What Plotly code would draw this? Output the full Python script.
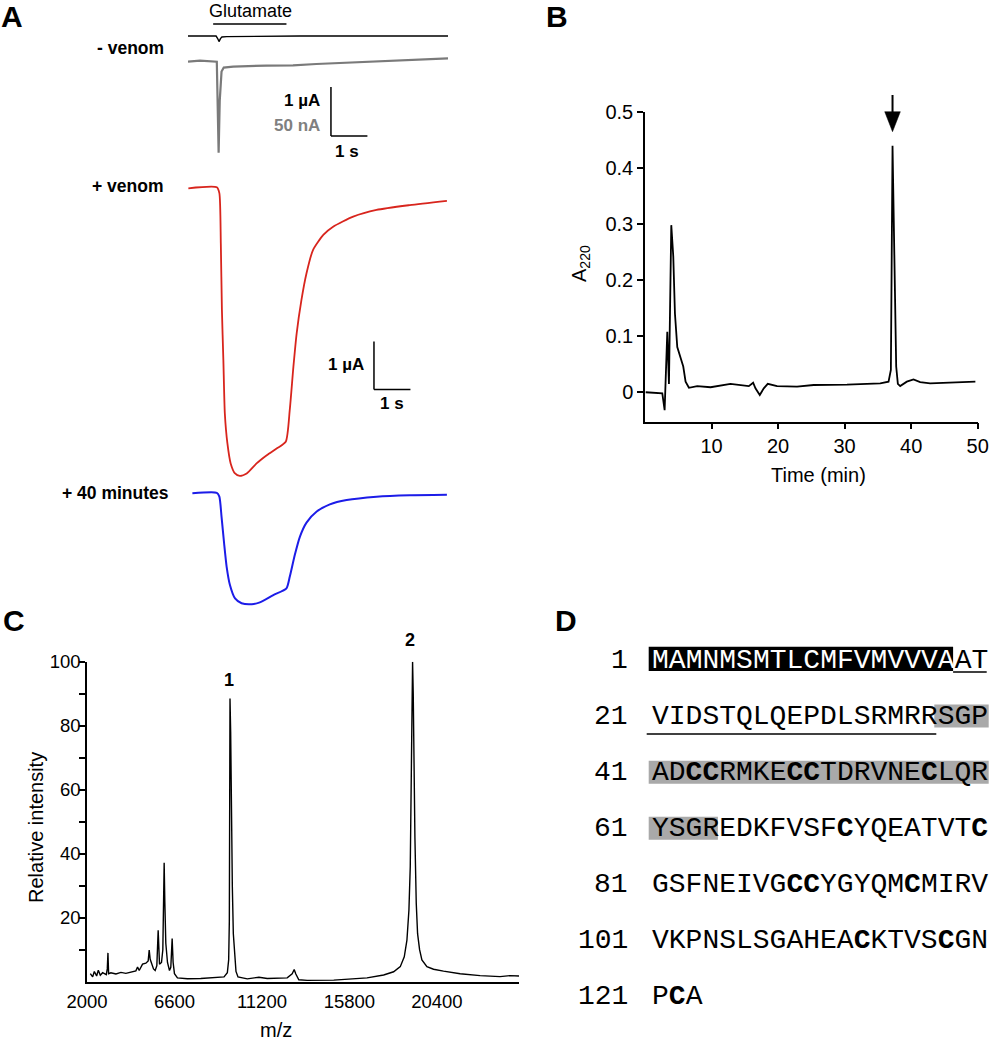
import plotly.graph_objects as go

# ---------------- DATA ----------------
# Panel A: oocyte currents (time in s, current)
A_black_t = [0.0, 0.77, 0.81, 0.85, 0.89, 0.93, 1.06, 3.07, 7.13]
A_black_uA = [0, 0, -0.048, -0.116, -0.054, -0.02, -0.014, 0, 0]

A_gray_t = [0.0, 0.33, 0.79, 0.81, 0.84, 0.87, 0.92, 0.98, 1.24, 2.15, 2.88, 3.52, 4.44, 5.81, 7.13]
A_gray_nA = [0, 1, 0, -40, -93, -40, -10, -6, -5, -4, -3.7, -2.4, -1, 1, 3.4]

A_red_t = [0.01, 0.79, 0.86, 0.90, 0.93, 0.97, 1.01, 1.08, 1.17, 1.29, 1.42, 1.61, 1.88, 2.16,
           2.43, 2.68, 2.79, 2.89, 2.98, 3.11, 3.25, 3.43, 3.71, 3.98, 4.53, 5.17, 6.08, 7.10]
A_red_uA = [0, 0.02, -0.10, -1.15, -2.53, -3.58, -4.69, -5.31, -5.73, -5.94, -5.99, -5.94, -5.73, -5.56,
            -5.42, -5.28, -4.62, -3.72, -3.02, -2.33, -1.77, -1.28, -0.97, -0.80, -0.59, -0.45, -0.35, -0.26]

A_blue_t = [0.12, 0.79, 0.86, 0.92, 0.99, 1.06, 1.15, 1.29, 1.47, 1.75, 1.97, 2.34, 2.70, 2.79,
            2.93, 3.07, 3.25, 3.53, 3.89, 4.35, 5.17, 6.08, 7.10]
A_blue_uA = [0, 0.01, -0.07, -0.49, -1.04, -1.53, -1.91, -2.19, -2.29, -2.31, -2.27, -2.12, -1.98, -1.74,
             -1.28, -0.90, -0.61, -0.38, -0.23, -0.14, -0.07, -0.04, -0.03]

GLU_ON, GLU_OFF = 0.69, 2.70          # glutamate application (s)

# Panel B: HPLC chromatogram
B_time = [0.1, 2.6, 2.95, 3.35, 3.6, 3.95, 4.25, 4.5, 4.85, 5.35, 5.75, 6.1, 6.6, 7.85, 9.85,
          12.85, 14.35, 15.6, 16.25, 16.6, 17.25, 17.85, 18.45, 19.85, 22.85, 25.35, 30.35, 35.35,
          36.6, 36.95, 37.2, 37.5, 37.75, 38.0, 38.35, 39.35, 40.35, 41.35, 42.85, 49.65]
B_a220 = [-0.001, -0.003, -0.033, 0.107, 0.014, 0.298, 0.242, 0.14, 0.08, 0.06, 0.045, 0.018, 0.007, 0.01, 0.008,
          0.014, 0.012, 0.01, 0.016, 0.006, -0.006, 0.006, 0.014, 0.010, 0.009, 0.012, 0.0125, 0.015,
          0.018, 0.039, 0.44, 0.26, 0.045, 0.014, 0.01, 0.018, 0.022, 0.017, 0.015, 0.018]
B_xticks = [10, 20, 30, 40, 50]
B_yticks = [0, 0.1, 0.2, 0.3, 0.4, 0.5]
B_yticklabels = ["0", "0.1", "0.2", "0.3", "0.4", "0.5"]

# Panel C: MALDI mass spectrum
C_mz = [2175, 2297, 2385, 2507, 2595, 2700, 2822, 3014, 3067, 3102,
        3137, 3259, 3522, 3784, 4046, 4309, 4571, 4659, 4746, 4921,
        5096, 5218, 5271, 5323, 5393, 5498, 5586, 5673, 5743, 5813,
        5918, 5988, 6040, 6058, 6093, 6145, 6233, 6338, 6408, 6478,
        6530, 6600, 6757, 7282, 7981, 8681, 9206, 9381, 9451, 9486,
        9503, 9521, 9556, 9591, 9643, 9696, 9766, 9836, 9941, 10430,
        11043, 11480, 12529, 12791, 12896, 12983, 13140, 13578, 14978, 16727,
        17601, 18126, 18476, 18686, 18826, 18931, 19001, 19053, 19088, 19123,
        19158, 19193, 19246, 19316, 19386, 19491, 19613, 19876, 20225, 20750,
        21625, 22674, 23724, 24248, 24720]
C_int = [2.5, 1.5, 3.2, 1.8, 3.6, 2.0, 2.8, 2.2, 4.0, 9.0,
         2.5, 2.8, 2.4, 2.9, 2.6, 3.0, 3.4, 4.6, 3.5, 5.5,
         5.8, 6.5, 9.9, 7.0, 6.0, 4.0, 3.5, 5.0, 16.1, 5.5,
         6.0, 10, 30, 37.2, 25, 12, 6.0, 3.5, 4.5, 13.5,
         6.0, 2.5, 1.2, 0.9, 1.0, 1.2, 1.5, 2.8, 6.8, 19,
         50, 88.5, 78, 45, 30, 15, 6.8, 3.2, 1.5, 0.9,
         1.4, 1.0, 1.2, 2.5, 3.8, 2.4, 0.6, 0.4, 0.5, 1.2,
         2.1, 3.1, 4.7, 7.8, 13, 22.4, 36, 59, 82, 100,
         90, 69, 45, 24.5, 15, 10, 6.8, 4.7, 3.9, 3.3,
         2.5, 1.9, 1.6, 1.9, 1.8]
C_xticks = [2000, 6600, 11200, 15800, 20400]
C_xticklabels = ["2000", "6600", "11200", "15800", "20400"]
C_yticks = [20, 40, 60, 80, 100]
C_yticklabels = ["20", "40", "60", "80", "100"]
C_yminor = [10, 30, 50, 70, 90]
C_peak_labels = ["1", "2"]
C_peak_mz = [9468, 18966]
C_peak_y = [94.3, 106.8]

# Panel D: sequence
D_start = [1, 21, 41, 61, 81, 101, 121]
D_rows = ["MAMNMSMTLCMFVMVVVAAT", "VIDSTQLQEPDLSRMRRSGP", "ADCCRMKECCTDRVNECLQR",
          "YSGREDKFVSFCYQEATVTC", "GSFNEIVGCCYGYQMCMIRV", "VKPNSLSGAHEACKTVSCGN", "PCA"]
D_signal = (1, 18)       # black box
D_propep = (19, 37)      # underlined
D_mature = (38, 64)      # gray box

# ---------------- LAYOUT HELPERS ----------------
W, H = 990, 1050
def px(x): return x / W
def py(y): return 1 - y / H

FONT = "Liberation Sans, Arial, Helvetica, sans-serif"
MONO = "Liberation Mono, Courier New, Courier, monospace"

fig = go.Figure()

# ---------------- PANEL A ----------------
line_kw = dict(mode="lines", showlegend=False, hoverinfo="skip")
fig.add_trace(go.Scatter(x=A_black_t, y=A_black_uA, xaxis="x", yaxis="y",
                         line=dict(color="black", width=1.4), **line_kw))
fig.add_trace(go.Scatter(x=A_gray_t, y=A_gray_nA, xaxis="x", yaxis="y2",
                         line=dict(color="#7a7a7a", width=2.2), **line_kw))
fig.add_trace(go.Scatter(x=A_red_t, y=A_red_uA, xaxis="x", yaxis="y3",
                         line=dict(color="#d8251d", width=1.8, shape="spline", smoothing=0.6), **line_kw))
fig.add_trace(go.Scatter(x=A_blue_t, y=A_blue_uA, xaxis="x", yaxis="y4",
                         line=dict(color="#1c1ce8", width=2.0, shape="spline", smoothing=0.6), **line_kw))

# ---------------- PANEL B ----------------
fig.add_trace(go.Scatter(x=B_time, y=B_a220, xaxis="x2", yaxis="y5",
                         line=dict(color="black", width=1.8), **line_kw))

# ---------------- PANEL C ----------------
fig.add_trace(go.Scatter(x=C_mz, y=C_int, xaxis="x3", yaxis="y6",
                         line=dict(color="black", width=1.4), **line_kw))

hidden = dict(visible=False, showgrid=False, zeroline=False, fixedrange=True, automargin=False)
axis_style = dict(showline=True, linecolor="black", linewidth=1.5, ticks="outside", ticklen=6,
                  tickwidth=1.5, tickcolor="black", showgrid=False, zeroline=False, fixedrange=True,
                  automargin=False)

shapes = []
annotations = []

# glutamate bar and scale bars (panel A)
shapes.append(dict(type="line", xref="x", yref="y", x0=GLU_ON, x1=GLU_OFF, y0=0.25, y1=0.25,
                   line=dict(color="black", width=1.5)))
shapes.append(dict(type="line", xref="x", yref="y2", x0=3.92, x1=3.92, y0=-75.8, y1=-25.8,
                   line=dict(color="black", width=1.5)))
shapes.append(dict(type="line", xref="x", yref="y2", x0=3.92, x1=4.92, y0=-75.8, y1=-75.8,
                   line=dict(color="black", width=1.5)))
shapes.append(dict(type="line", xref="x", yref="y3", x0=5.10, x1=5.10, y0=-4.19, y1=-3.19,
                   line=dict(color="black", width=1.5)))
shapes.append(dict(type="line", xref="x", yref="y3", x0=5.10, x1=6.10, y0=-4.19, y1=-4.19,
                   line=dict(color="black", width=1.5)))

def ann(text, x, y, size=17, bold=False, xanchor="center", color="black", family=FONT, angle=0):
    annotations.append(dict(text=("<b>%s</b>" % text) if bold else text, x=px(x), y=py(y),
                            xref="paper", yref="paper", showarrow=False, xanchor=xanchor,
                            yanchor="middle", textangle=angle,
                            font=dict(family=family, size=size, color=color)))

# panel letters
ann("A", 12, 16, size=30, bold=True)
ann("B", 557, 16, size=30, bold=True)
ann("C", 14, 620, size=30, bold=True)
ann("D", 566, 620, size=30, bold=True)

ann("Glutamate", 250, 11, size=18)
ann("- venom", 166, 48, size=17.5, bold=True, xanchor="right")
ann("+ venom", 166, 186, size=17.5, bold=True, xanchor="right")
ann("+ 40 minutes", 171, 493, size=17.5, bold=True, xanchor="right")
ann("1 µA", 322, 101, size=17, bold=True, xanchor="right")
ann("50 nA", 322, 125, size=17, bold=True, xanchor="right", color="#808080")
ann("1 s", 347, 151, size=17, bold=True)
ann("1 µA", 366, 364, size=17, bold=True, xanchor="right")
ann("1 s", 392, 403, size=17, bold=True)

# Panel B titles and arrow
ann("A<sub>220</sub>", 580, 264, size=20, angle=-90)
ann("Time (min)", 818, 475, size=20)

B_X0, B_X1, B_Y0, B_Y1 = 645, 977.7, 421.7, 112.3
B_RANGE_X = [0, 50]
B_RANGE_Y = [-0.0537, 0.5]
def bx(t): return B_X0 + (t - B_RANGE_X[0]) / (B_RANGE_X[1] - B_RANGE_X[0]) * (B_X1 - B_X0)
peak_t = B_time[B_a220.index(max(B_a220))]
ax_px = bx(peak_t)
shapes.append(dict(type="line", xref="paper", yref="paper", x0=px(ax_px), x1=px(ax_px),
                   y0=py(95), y1=py(113), line=dict(color="black", width=2)))
shapes.append(dict(type="path", xref="paper", yref="paper",
                   path="M %f %f L %f %f L %f %f Z" % (px(ax_px - 7.8), py(111.7), px(ax_px + 7.8), py(111.7),
                                                      px(ax_px), py(131.7)),
                   fillcolor="black", line=dict(color="black", width=0.5)))

# Panel C titles & peak labels
C_X0, C_X1, C_Y0, C_Y1 = 87, 519, 981.7, 661.7
C_RANGE_X = [2000, 24720]
C_RANGE_Y = [0, 100]
def cx(v): return C_X0 + (v - C_RANGE_X[0]) / (C_RANGE_X[1] - C_RANGE_X[0]) * (C_X1 - C_X0)
def cy(v): return C_Y0 + (v - C_RANGE_Y[0]) / (C_RANGE_Y[1] - C_RANGE_Y[0]) * (C_Y1 - C_Y0)
ann("Relative intensity", 36, 828, size=20, angle=-90)
ann("m/z", 276, 1030, size=20)
for lab, mz, yy in zip(C_peak_labels, C_peak_mz, C_peak_y):
    ann(lab, cx(mz), cy(yy), size=18, bold=True)

# Panel D: sequence
D_NUM_RIGHT, D_SEQ_LEFT, CW = 627, 650.7, 16.8
ROW_Y0, ROW_DY = 660, 56.1
for r, (start, row) in enumerate(zip(D_start, D_rows)):
    yc = ROW_Y0 + r * ROW_DY
    # highlight boxes
    for (a, b), color, top, bot in [(D_signal, "black", 13.3, 11), (D_mature, "#a9a9a9", 11.5, 11.5)]:
        lo, hi = max(a, start), min(b, start + len(row) - 1)
        if lo <= hi:
            x0 = D_SEQ_LEFT - 2 + (lo - start) * CW
            x1 = D_SEQ_LEFT + (hi - start + 1) * CW + (2 if hi == start + len(row) - 1 else 0)
            shapes.append(dict(type="rect", xref="paper", yref="paper", x0=px(x0), x1=px(x1),
                               y0=py(yc + bot), y1=py(yc - top), fillcolor=color, line=dict(width=0),
                               layer="below"))
    lo, hi = max(D_propep[0], start), min(D_propep[1], start + len(row) - 1)
    if lo <= hi:
        off = 12 if r == 0 else 18
        x0 = D_SEQ_LEFT - (4 if lo == start else 0) + (lo - start) * CW
        x1 = D_SEQ_LEFT + (hi - start + 1) * CW
        shapes.append(dict(type="line", xref="paper", yref="paper", x0=px(x0), x1=px(x1),
                           y0=py(yc + off), y1=py(yc + off), line=dict(color="black", width=1.5)))
    # text
    parts = []
    for k, ch in enumerate(row):
        idx = start + k
        if D_signal[0] <= idx <= D_signal[1]:
            parts.append('<span style="color:white">%s</span>' % ch)
        elif ch == "C":
            parts.append("<b>C</b>")
        else:
            parts.append(ch)
    num = str(start)
    ann(num, D_NUM_RIGHT - len(num) * CW - 1, yc, size=28, xanchor="left", family=MONO)
    ann("".join(parts), D_SEQ_LEFT - 1, yc, size=28, xanchor="left", family=MONO)

fig.update_layout(
    width=W, height=H, autosize=False,
    margin=dict(l=0, r=0, t=0, b=0, pad=0),
    paper_bgcolor="white", plot_bgcolor="white",
    showlegend=False,
    xaxis=dict(domain=[px(188), px(448)], range=[0, 7.13], anchor="y", **hidden),
    yaxis=dict(domain=[py(60), py(15)], range=[-0.5, 0.4375], anchor="x", **hidden),
    yaxis2=dict(domain=[py(160), py(55)], range=[-100.3, 6.8], anchor="x", **hidden),
    yaxis3=dict(domain=[py(485), py(180)], range=[-6.18, 0.173], anchor="x", **hidden),
    yaxis4=dict(domain=[py(610), py(485)], range=[-2.43, 0.173], anchor="x", **hidden),
    xaxis2=dict(domain=[px(B_X0), px(B_X1)], range=B_RANGE_X, anchor="y5", tickvals=B_xticks,
                tickfont=dict(family=FONT, size=20, color="black"), **axis_style),
    yaxis5=dict(domain=[py(B_Y0), py(B_Y1)], range=B_RANGE_Y, anchor="x2", tickvals=B_yticks,
                ticktext=B_yticklabels, tickfont=dict(family=FONT, size=20, color="black"), **axis_style),
    xaxis3=dict(domain=[px(C_X0), px(C_X1)], range=C_RANGE_X, anchor="y6", tickvals=C_xticks,
                ticktext=C_xticklabels,
                showline=True, linecolor="black", linewidth=1.5, ticks="", showgrid=False,
                zeroline=False, fixedrange=True, automargin=False, ticklabelstandoff=2,
                tickfont=dict(family=FONT, size=18.5, color="black")),
    yaxis6=dict(domain=[py(C_Y0), py(C_Y1)], range=C_RANGE_Y, anchor="x3", tickvals=C_yticks,
                ticktext=C_yticklabels, ticklabelstandoff=-5,
                minor=dict(tickmode="array", tickvals=C_yminor, ticks="outside", ticklen=6,
                           tickwidth=1.5, tickcolor="black", showgrid=False),
                tickfont=dict(family=FONT, size=18.5, color="black"), **axis_style),
    shapes=shapes,
    annotations=annotations,
)

fig.write_html("out.html", config={"displayModeBar": False},
               post_script="document.body.style.margin='0px';")
